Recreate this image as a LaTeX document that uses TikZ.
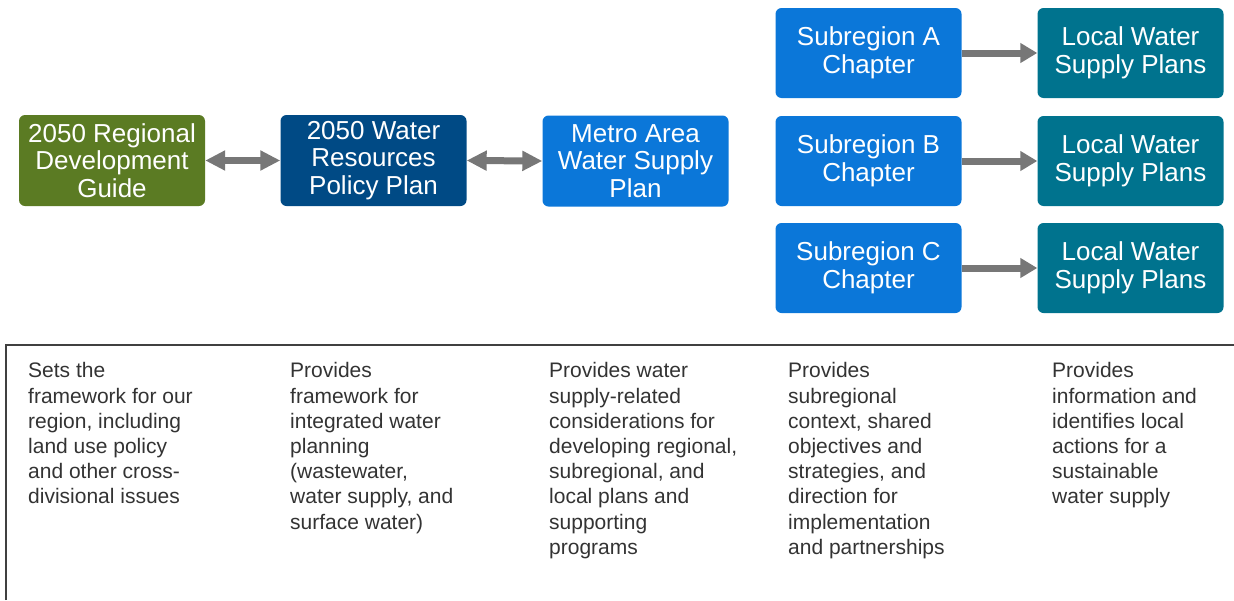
\documentclass[tikz,border=0pt]{standalone}
\usepackage{fontspec}
\setmainfont{Liberation Sans}
\usetikzlibrary{arrows.meta}
\definecolor{cgreen}{HTML}{5B7B23}
\definecolor{cnavy}{HTML}{004A85}
\definecolor{cblue}{HTML}{0B77D9}
\definecolor{cteal}{HTML}{00738E}
\definecolor{carrow}{HTML}{777777}
\definecolor{cframe}{HTML}{404040}
\definecolor{ctext}{HTML}{333333}
\begin{document}
\begin{tikzpicture}[x=1pt,y=-1pt,
  box/.style={rounded corners=6pt, minimum width=186pt, minimum height=91pt,
    text=white, align=center, inner sep=0pt,
    font=\fontsize{26}{27.5}\selectfont},
  desc/.style={anchor=north west, align=left, inner sep=0pt, text=ctext,
    font=\fontsize{21}{25.2}\selectfont},
  biarrow/.style={draw=carrow, line width=7pt,
    {Triangle[length=20pt,width=19pt]}-{Triangle[length=20pt,width=19pt]}},
  onearrow/.style={draw=carrow, line width=7pt,
    -{Triangle[length=17pt,width=19pt]}}
]
\useasboundingbox (0,0) rectangle (1234,600);

\node[box, fill=cgreen] (reg) at (112,160.5) {2050 Regional\\Development\\Guide};
\node[box, fill=cnavy] (wrp) at (373.5,160.5) {2050 Water\\Resources\\Policy Plan};
\node[box, fill=cblue] (metro) at (635.5,161) {Metro Area\\Water Supply\\Plan};

\node[box, fill=cblue, minimum height=90pt] (subA) at (868.5,53) {Subregion A\\Chapter};
\node[box, fill=cblue, minimum height=90pt] (subB) at (868.5,161) {Subregion B\\Chapter};
\node[box, fill=cblue, minimum height=90pt] (subC) at (868.5,268) {Subregion C\\Chapter};

\node[box, fill=cteal, minimum height=90pt] (locA) at (1130.5,53) {Local Water\\Supply Plans};
\node[box, fill=cteal, minimum height=90pt] (locB) at (1130.5,161) {Local Water\\Supply Plans};
\node[box, fill=cteal, minimum height=90pt] (locC) at (1130.5,268) {Local Water\\Supply Plans};

\draw[biarrow] (reg.east) -- (wrp.west);
\draw[biarrow] (wrp.east) -- (metro.west);
\draw[onearrow] (subA.east) -- (locA.west);
\draw[onearrow] (subB.east) -- (locB.west);
\draw[onearrow] (subC.east) -- (locC.west);

\coordinate (fbl) at (6,600);
\coordinate (ftl) at (6,345);
\coordinate (ftr) at (1234,345);
\draw[cframe, line width=1.6pt] (fbl) -- (ftl) -- (ftr);

\node[desc] (d1) at (28,362.5) {Sets the\\framework for our\\region, including\\land use policy\\and other cross-\\divisional issues};
\node[desc] (d2) at (290,362.5) {Provides\\framework for\\integrated water\\planning\\(wastewater,\\water supply, and\\surface water)};
\node[desc] (d3) at (549,362.5) {Provides water\\supply-related\\considerations for\\developing regional,\\subregional, and\\local plans and\\supporting\\programs};
\node[desc] (d4) at (788,362.5) {Provides\\subregional\\context, shared\\objectives and\\strategies, and\\direction for\\implementation\\and partnerships};
\node[desc] (d5) at (1052,362.5) {Provides\\information and\\identifies local\\actions for a\\sustainable\\water supply};
\end{tikzpicture}
\end{document}
